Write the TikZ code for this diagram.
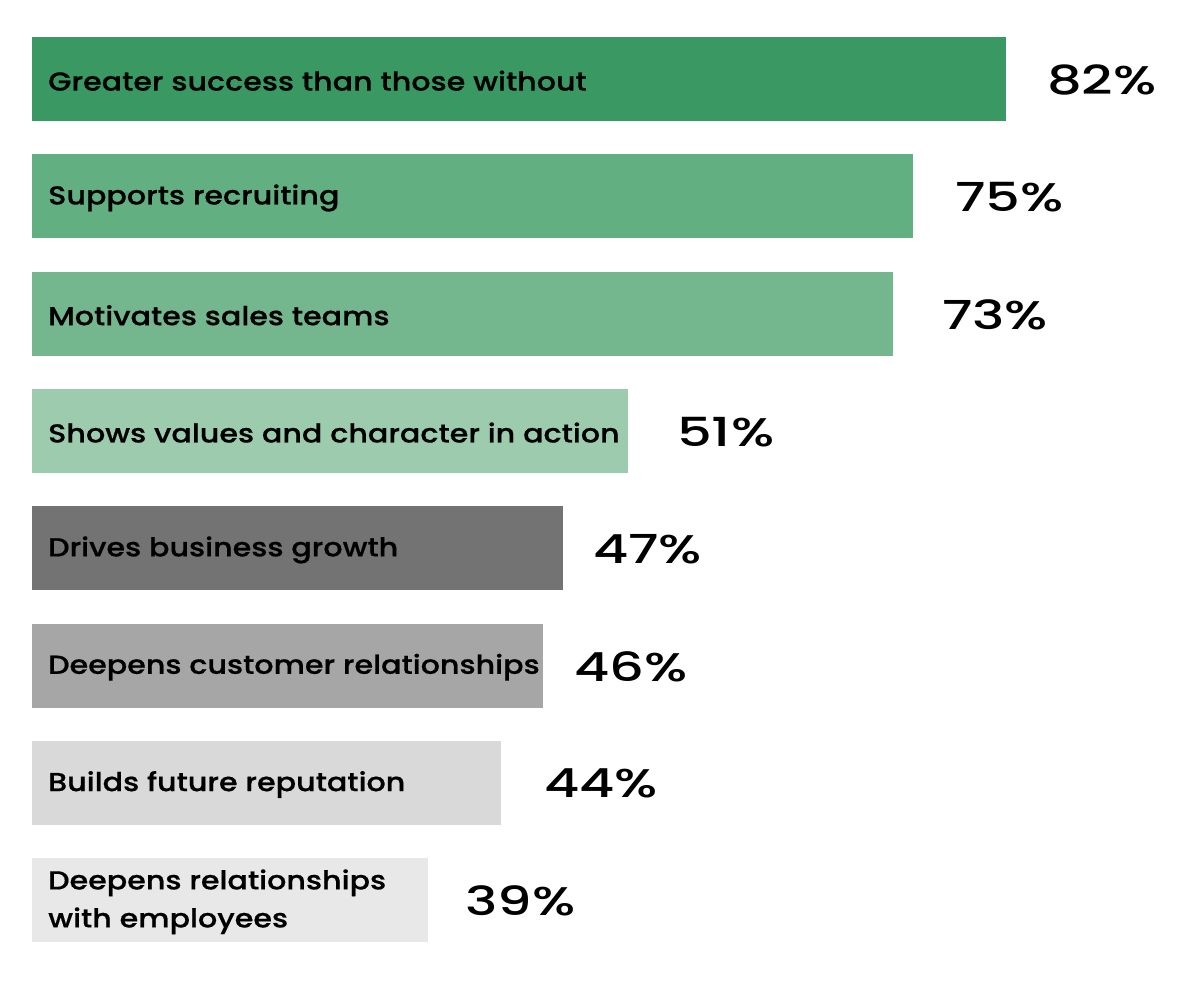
\documentclass[tikz,border=0pt]{standalone}
\usepackage{fontspec}
\setmainfont{Poppins}
\newfontfamily\lblfont{Poppins Medium}[FakeStretch=1.16,FakeBold=0.6]
\newfontfamily\pctfont{Poppins Medium}[FakeStretch=1.36]
\definecolor{c1}{HTML}{3A9962}
\definecolor{c2}{HTML}{62AF81}
\definecolor{c3}{HTML}{74B78F}
\definecolor{c4}{HTML}{9CCBAE}
\definecolor{c5}{HTML}{737373}
\definecolor{c6}{HTML}{A6A6A6}
\definecolor{c7}{HTML}{D9D9D9}
\definecolor{c8}{HTML}{E8E8E8}
\begin{document}
\begin{tikzpicture}[x=1pt,y=1pt,
  bar/.style={draw=none,inner sep=0pt,anchor=north west,minimum height=84pt},
  lbl/.style={anchor=west,inner sep=0pt,font=\lblfont\fontsize{26}{38}\selectfont,align=left},
  pct/.style={anchor=west,inner sep=0pt,font=\pctfont\fontsize{40}{40}\selectfont}]
\useasboundingbox (0,0) rectangle (1200,-1000);
\foreach \i/\w/\col/\t/\p/\px in {
  1/974/c1/{Greater success than those without}/82\%/1047,
  2/881/c2/{Supports recruiting}/75\%/955,
  3/861/c3/{Motivates sales teams}/73\%/942,
  4/596/c4/{Shows values and character in action}/51\%/677,
  5/531/c5/{Drives business growth}/47\%/593,
  6/511/c6/{Deepens customer relationships}/46\%/574,
  7/469/c7/{Builds future reputation}/44\%/544,
  8/396/c8/{Deepens relationships\\with employees}/39\%/465}{
  \pgfmathsetmacro{\top}{-37-117.3*(\i-1)}
  \node[bar,fill=\col,minimum width=\w pt] (b\i) at (32,\top) {};
  \node[lbl] (l\i) at ([xshift=16pt,yshift=-1.5pt]b\i.west) {\t};
  \node[pct] (p\i) at (\px,{\top-43}) {\p};
}
\end{tikzpicture}
\end{document}
